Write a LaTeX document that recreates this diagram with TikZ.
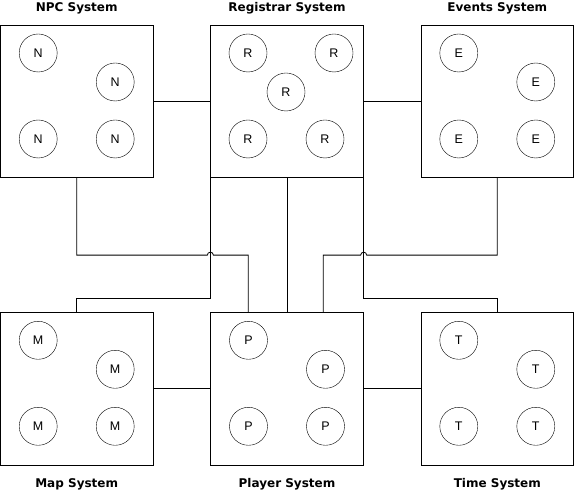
\documentclass[tikz,border=0pt]{standalone}
\usepackage{fontspec}
\setmainfont{Liberation Sans}
\newfontfamily\titlefont{DejaVu Sans}
\usetikzlibrary{positioning,calc}

\begin{document}
\begin{tikzpicture}[
    x=1pt, y=1pt,
    node distance=134pt and 57pt,
    sysbox/.style={rectangle, draw, line width=0.8pt, minimum size=152.5pt, inner sep=0pt},
    unit/.style={circle, draw, line width=0.4pt, minimum size=38pt, inner sep=0pt, font=\fontsize{12.5}{12.5}\selectfont},
    title/.style={font=\titlefont\bfseries\fontsize{12}{14}\selectfont, text height=9pt, text depth=3pt},
    link/.style={line width=0.8pt}
]
    \useasboundingbox (0,0) rectangle (575,492);

    % Top row of systems
    \node[sysbox] (npc) at (76.7,390.5) {};
    \node[sysbox, right=of npc] (reg) {};
    \node[sysbox, right=of reg] (evt) {};

    % Bottom row of systems
    \node[sysbox, below=of npc] (map) {};
    \node[sysbox, below=of reg] (ply) {};
    \node[sysbox, below=of evt] (tim) {};

    % Titles
    \node[title, above=7.3pt of npc] (npct) {NPC System};
    \node[title, above=7.3pt of reg] (regt) {Registrar System};
    \node[title, above=7.3pt of evt] (evtt) {Events System};
    \node[title, below=9.3pt of map] (mapt) {Map System};
    \node[title, below=9.3pt of ply] (plyt) {Player System};
    \node[title, below=9.3pt of tim] (timt) {Time System};

    % NPC units
    \node[unit] (n1) at ($(npc.center)+(-38.5,48.5)$) {N};
    \node[unit] (n2) at ($(npc.center)+(38.5,19.5)$) {N};
    \node[unit] (n3) at ($(npc.center)+(-38.5,-37.5)$) {N};
    \node[unit] (n4) at ($(npc.center)+(38.5,-37.5)$) {N};

    % Registrar units
    \node[unit] (r1) at ($(reg.center)+(-39,48.5)$) {R};
    \node[unit] (r2) at ($(reg.center)+(47,48.5)$) {R};
    \node[unit] (r3) at ($(reg.center)+(-1,9.5)$) {R};
    \node[unit] (r4) at ($(reg.center)+(-39,-37.5)$) {R};
    \node[unit] (r5) at ($(reg.center)+(38,-37.5)$) {R};

    % Events units
    \node[unit] (e1) at ($(evt.center)+(-38.5,48.5)$) {E};
    \node[unit] (e2) at ($(evt.center)+(38.5,19.5)$) {E};
    \node[unit] (e3) at ($(evt.center)+(-38.5,-37.5)$) {E};
    \node[unit] (e4) at ($(evt.center)+(38.5,-37.5)$) {E};

    % Map units
    \node[unit] (m1) at ($(map.center)+(-38.5,48.5)$) {M};
    \node[unit] (m2) at ($(map.center)+(38.5,19.5)$) {M};
    \node[unit] (m3) at ($(map.center)+(-38.5,-37.5)$) {M};
    \node[unit] (m4) at ($(map.center)+(38.5,-37.5)$) {M};

    % Player units
    \node[unit] (p1) at ($(ply.center)+(-38.5,48.5)$) {P};
    \node[unit] (p2) at ($(ply.center)+(38.5,19.5)$) {P};
    \node[unit] (p3) at ($(ply.center)+(-38.5,-37.5)$) {P};
    \node[unit] (p4) at ($(ply.center)+(38.5,-37.5)$) {P};

    % Time units
    \node[unit] (t1) at ($(tim.center)+(-38.5,48.5)$) {T};
    \node[unit] (t2) at ($(tim.center)+(38.5,19.5)$) {T};
    \node[unit] (t3) at ($(tim.center)+(-38.5,-37.5)$) {T};
    \node[unit] (t4) at ($(tim.center)+(38.5,-37.5)$) {T};

    % Side links
    \draw[link] (npc) -- (reg);
    \draw[link] (reg) -- (evt);
    \draw[link] (map) -- (ply);
    \draw[link] (ply) -- (tim);

    % Links down from the registrar
    \draw[link] (reg.south west) -- ++(0,-120) -| (map.north);
    \draw[link] (reg.south) -- (ply.north);
    \draw[link] (reg.south east) -- ++(0,-120) -| (tim.north);

    % Links into the player, hopping over the registrar lines
    \coordinate (plyl) at ($(ply.north)+(-38.7,0)$);
    \coordinate (plyr) at ($(ply.north)+(36.3,0)$);
    \draw[link] (npc.south) |- ($(reg.south west)+(-3,-77)$)
        arc[start angle=180, end angle=0, radius=3] -| (plyl);
    \draw[link] (evt.south) |- ($(reg.south east)+(3,-77)$)
        arc[start angle=0, end angle=180, radius=3] -| (plyr);
\end{tikzpicture}
\end{document}
